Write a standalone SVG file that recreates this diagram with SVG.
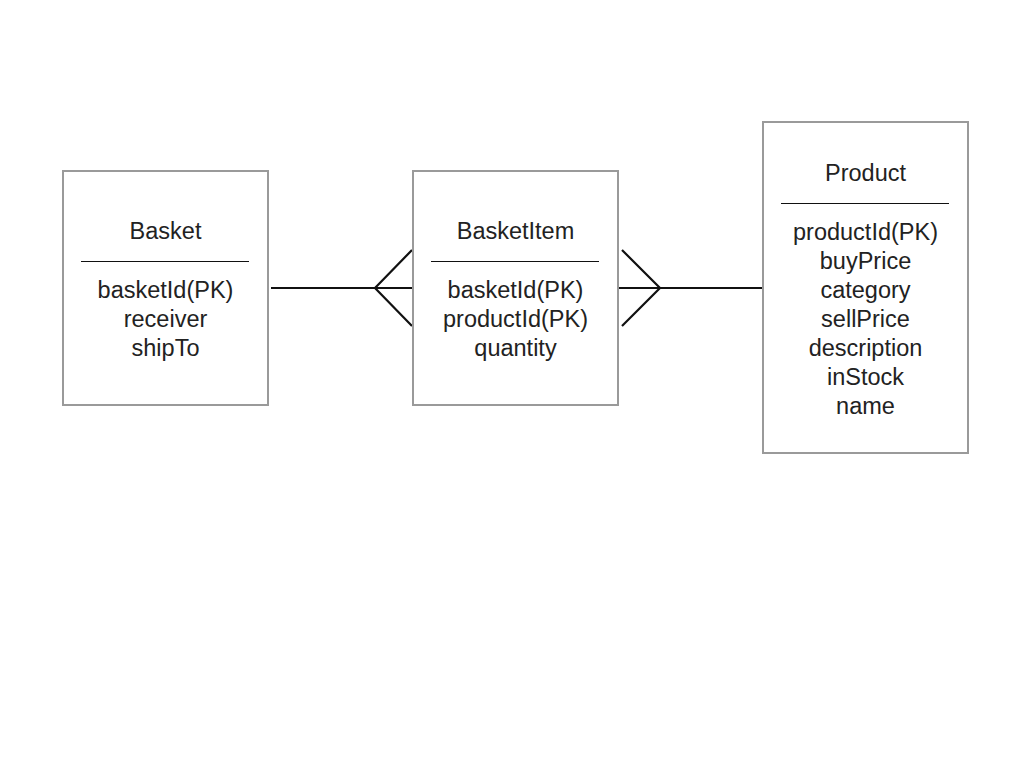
<svg xmlns="http://www.w3.org/2000/svg" width="1024" height="768" viewBox="0 0 1024 768">
<style>
.box{fill:#fff;stroke:#9a9a9a;stroke-width:2}
.sep{stroke:#111;stroke-width:1}
.t{font-family:"Liberation Sans",Arial,sans-serif;font-size:23.5px;fill:#222;text-anchor:middle}
.c{stroke:#111;stroke-width:2.2;fill:none}
</style>
<rect width="1024" height="768" fill="#fff"/>
<g id="connectors">
<line class="c" x1="271" y1="288" x2="415" y2="288"/>
<polyline class="c" points="412,250 375,288 412,326"/>
<line class="c" x1="618" y1="288" x2="763" y2="288"/>
<polyline class="c" points="622,250 660,288 622,326"/>
</g>
<g id="basket">
<rect class="box" x="63" y="171" width="205" height="234"/>
<text class="t" x="165.5" y="239">Basket</text>
<line class="sep" x1="81" y1="261.5" x2="249" y2="261.5"/>
<text class="t" x="165.5" y="298">basketId(PK)</text>
<text class="t" x="165.5" y="327">receiver</text>
<text class="t" x="165.5" y="356">shipTo</text>
</g>
<g id="basketitem">
<rect class="box" x="413" y="171" width="205" height="234"/>
<text class="t" x="515.5" y="239">BasketItem</text>
<line class="sep" x1="431" y1="261.5" x2="599" y2="261.5"/>
<text class="t" x="515.5" y="298">basketId(PK)</text>
<text class="t" x="515.5" y="327">productId(PK)</text>
<text class="t" x="515.5" y="356">quantity</text>
</g>
<g id="product">
<rect class="box" x="763" y="122" width="205" height="331"/>
<text class="t" x="865.5" y="181">Product</text>
<line class="sep" x1="781" y1="203.5" x2="949" y2="203.5"/>
<text class="t" x="865.5" y="240">productId(PK)</text>
<text class="t" x="865.5" y="269">buyPrice</text>
<text class="t" x="865.5" y="298">category</text>
<text class="t" x="865.5" y="327">sellPrice</text>
<text class="t" x="865.5" y="356">description</text>
<text class="t" x="865.5" y="385">inStock</text>
<text class="t" x="865.5" y="414">name</text>
</g>
</svg>
